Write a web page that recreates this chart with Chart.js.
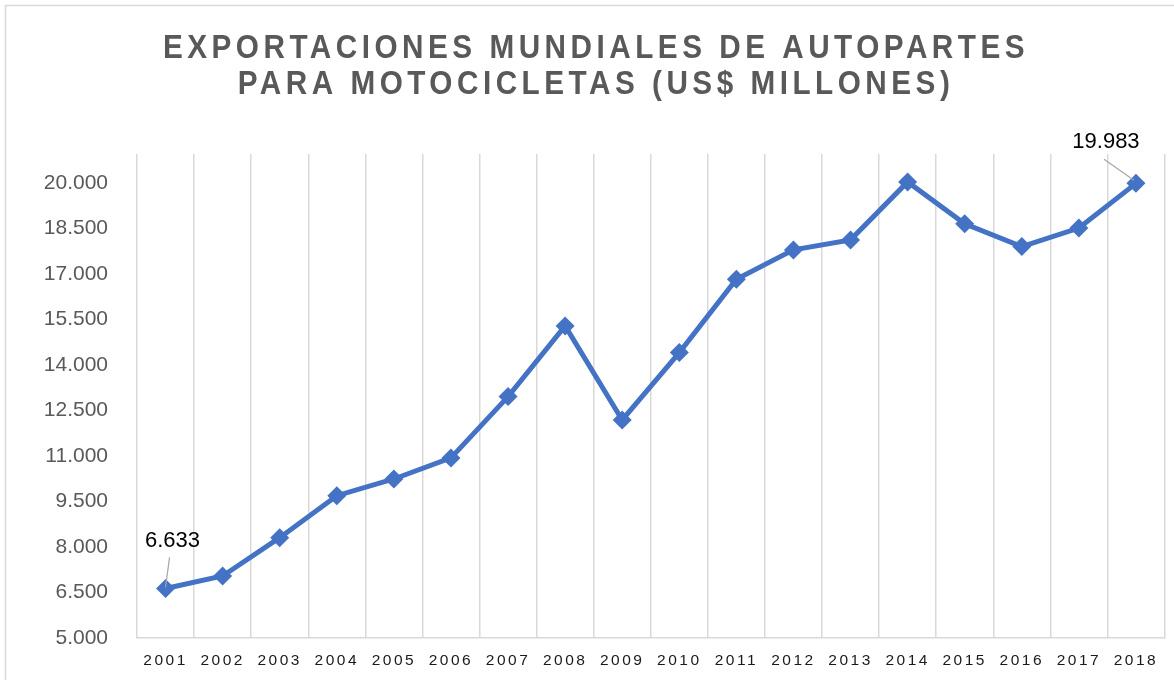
<!DOCTYPE html>
<html>
<head>
<meta charset="utf-8">
<script src="https://cdn.jsdelivr.net/npm/chart.js@4/dist/chart.umd.min.js"></script>
<style>
  html, body { margin: 0; padding: 0; background: #fff; }
  #wrap { width: 1174px; height: 680px; }
</style>
</head>
<body>
<div id="wrap"><canvas id="exportChart" width="1174" height="680"></canvas></div>
<script>
// data
const years = ['2001', '2002', '2003', '2004', '2005', '2006', '2007', '2008', '2009',
  '2010', '2011', '2012', '2013', '2014', '2015', '2016', '2017', '2018'];
const exportsUsd = [6633, 7044, 8307, 9690, 10240, 10935, 12955, 15285, 12185,
  14405, 16825, 17790, 18120, 20030, 18650, 17900, 18510, 19983];
const yTicks = [5000, 6500, 8000, 9500, 11000, 12500, 14000, 15500, 17000, 18500, 20000];
const titleLines = ['EXPORTACIONES MUNDIALES DE AUTOPARTES', 'PARA MOTOCICLETAS (US$ MILLONES)'];
const labelledPoints = [0, years.length - 1];

function fmt(v) {
  return Math.round(v).toString().replace(/\B(?=(\d{3})+(?!\d))/g, '.');
}

// category axis with spaced-out labels like the excel one
class SpacedCategoryScale extends Chart.CategoryScale {
  drawLabels(area) {
    this.ctx.save();
    this.ctx.letterSpacing = '2.5px';
    super.drawLabels(area);
    this.ctx.restore();
  }
}
SpacedCategoryScale.id = 'spacedCategory';
SpacedCategoryScale.defaults = Chart.CategoryScale.defaults;
Chart.register(SpacedCategoryScale);

// frame + title
const frameTitle = {
  id: 'frameTitle',
  beforeDraw(chart) {
    const ctx = chart.ctx;
    ctx.save();
    ctx.fillStyle = '#fff';
    ctx.fillRect(0, 0, chart.width, chart.height);
    ctx.strokeStyle = '#d9d9d9';
    ctx.lineWidth = 1.5;
    ctx.strokeRect(5.5, 5.5, chart.width + 10, chart.height + 20);

    ctx.fillStyle = '#595959';
    ctx.font = 'bold 33px "Liberation Sans", Arial, sans-serif';
    ctx.letterSpacing = '5px';
    ctx.textAlign = 'center';
    ctx.textBaseline = 'alphabetic';
    ctx.translate(596, 0);
    ctx.scale(0.9, 1);
    ctx.fillText(titleLines[0], 0, 58);
    ctx.fillText(titleLines[1], 0, 94);
    ctx.restore();
  }
};

// value labels for first and last point, with leader lines
const endLabels = {
  id: 'endLabels',
  afterDatasetsDraw(chart) {
    const ctx = chart.ctx;
    const meta = chart.getDatasetMeta(0);
    const offs = {
      0: { tx: 7, ty: -41, l1: [4, -31], l2: [0, -1] },
      [years.length - 1]: { tx: -30, ty: -35, l1: [-32, -24], l2: [-2, -3] }
    };
    ctx.save();
    labelledPoints.forEach(i => {
      const pt = meta.data[i];
      const o = offs[i];
      ctx.strokeStyle = '#a6a6a6';
      ctx.lineWidth = 1.2;
      ctx.beginPath();
      ctx.moveTo(pt.x + o.l1[0], pt.y + o.l1[1]);
      ctx.lineTo(pt.x + o.l2[0], pt.y + o.l2[1]);
      ctx.stroke();
      ctx.fillStyle = '#000';
      ctx.font = '22px "Liberation Sans", Arial, sans-serif';
      ctx.textAlign = 'center';
      ctx.textBaseline = 'alphabetic';
      ctx.fillText(fmt(exportsUsd[i]), pt.x + o.tx, pt.y + o.ty);
    });
    ctx.restore();
  }
};

const ctx = document.querySelector('#exportChart').getContext('2d');
const exportChart = new Chart(ctx, {
  type: 'line',
  data: {
    labels: years,
    datasets: [{
      data: exportsUsd,
      borderColor: '#4472c4',
      backgroundColor: '#4472c4',
      borderWidth: 5,
      pointStyle: 'rectRot',
      pointRadius: 9.5,
      pointHoverRadius: 9.5,
      pointBorderWidth: 0,
      tension: 0
    }]
  },
  options: {
    responsive: false,
    animation: false,
    devicePixelRatio: 1,
    layout: { padding: { top: 154, right: 6, left: 0, bottom: 0 } },
    plugins: {
      legend: { display: false },
      title: { display: false },
      tooltip: { enabled: false }
    },
    scales: {
      x: {
        type: 'spacedCategory',
        offset: true,
        grid: { display: true, offset: true, color: '#d9d9d9', lineWidth: 1.5, drawTicks: false },
        border: { display: true, color: '#d9d9d9', width: 1.5 },
        ticks: {
          color: '#1a1a1a',
          font: { family: '"Liberation Sans", Arial, sans-serif', size: 15.5 },
          padding: 13,
          maxRotation: 0,
          autoSkip: false
        },
        afterFit(scale) { scale.height = 42; }
      },
      y: {
        min: 5000,
        max: 20950,
        grid: { display: false, drawTicks: false },
        border: { display: false },
        afterBuildTicks(scale) {
          scale.ticks = yTicks.map(v => ({ value: v }));
        },
        ticks: {
          color: '#595959',
          font: { family: '"Liberation Sans", Arial, sans-serif', size: 21 },
          padding: 29,
          callback: (v) => fmt(v)
        },
        afterFit(scale) { scale.width = 137; }
      }
    }
  },
  plugins: [frameTitle, endLabels]
});
</script>
</body>
</html>
